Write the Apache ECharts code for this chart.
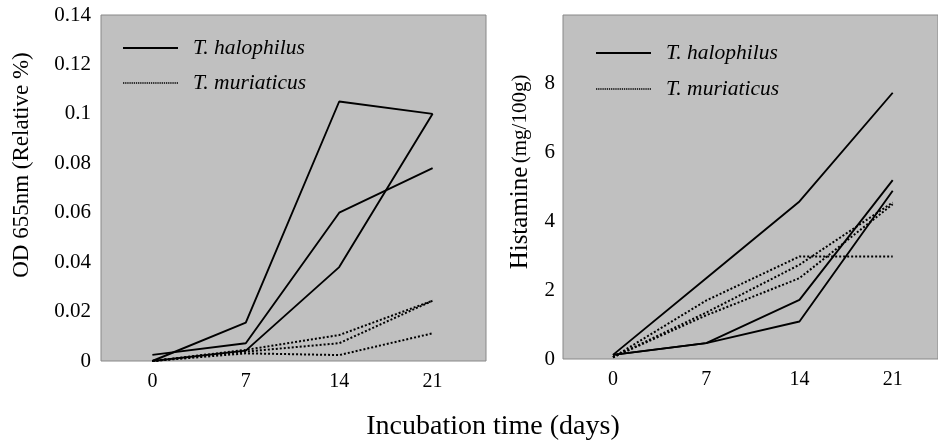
<!DOCTYPE html>
<html>
<head>
<meta charset="utf-8">
<title>OD and histamine</title>
<script src="https://cdn.jsdelivr.net/npm/echarts@6/dist/echarts.min.js"></script>
<style>
html, body { margin: 0; padding: 0; background: #fff; }
#chart { width: 938px; height: 441px; }
</style>
</head>
<body>
<div id="chart"></div>
<script>
// 天数 (x轴)
var days = [0, 7, 14, 21];
var dayLabels = [0, 7, 14, 21];

// 左图 OD 655nm
var odHalo1 = [0, 0.0155, 0.105, 0.1];
var odHalo2 = [0, 0.0042, 0.038, 0.1];
var odHalo3 = [0.0025, 0.0072, 0.060, 0.078];
var odMur1 = [0, 0.0045, 0.0105, 0.0244];
var odMur2 = [0, 0.0038, 0.0072, 0.0244];
var odMur3 = [0, 0.0031, 0.0024, 0.0112];

// 右图 Histamine
var hisHalo1 = [0.12, 2.35, 4.58, 7.74];
var hisHalo2 = [0.12, 0.46, 1.72, 5.2];
var hisHalo3 = [0.12, 0.46, 1.09, 4.89];
var hisMur1 = [0.05, 1.7, 2.98, 2.98];
var hisMur2 = [0.05, 1.35, 2.74, 4.55];
var hisMur3 = [0.05, 1.27, 2.35, 4.5];

var halo = 'T. halophilus';
var mur = 'T. muriaticus';
var font = 'Liberation Serif';

// 图例图标：实线 / 点线
var solidIcon = 'path://M0,0h55v2.2h-55z';
var dottedIcon = 'path://';
for (var k = 0; k < 26; k++) {
    dottedIcon += 'M' + (2 * k) + ',0h1.2v1.5h-1.2z';
}

function pairs(vals) {
    var out = [];
    for (var i = 0; i < days.length; i++) {
        out.push([days[i], vals[i]]);
    }
    return out;
}

function line(name, vals, idx, dotted) {
    return {
        name: name,
        type: 'line',
        xAxisIndex: idx,
        yAxisIndex: idx,
        data: pairs(vals),
        symbol: 'none',
        animation: false,
        itemStyle: { color: '#000' },
        lineStyle: dotted
            ? { color: '#000', width: 2, type: [2, 2] }
            : { color: '#000', width: 1.9, type: 'solid' }
    };
}

function legendAt(left, top, gap) {
    return {
        data: [
            { name: halo, icon: solidIcon, itemStyle: { color: '#000' } },
            { name: mur, icon: dottedIcon, itemStyle: { color: '#000' } }
        ],
        orient: 'vertical',
        left: left,
        top: top,
        padding: 0,
        itemWidth: 55,
        itemHeight: 14,
        itemGap: gap,
        selectedMode: false,
        textStyle: {
            fontFamily: font,
            fontStyle: 'italic',
            fontSize: 21.5,
            color: '#000',
            padding: [0, 0, 0, 10]
        }
    };
}

var xCommon = {
    type: 'value',
    axisLine: { show: false },
    axisTick: { show: false },
    splitLine: { show: false },
    axisLabel: {
        customValues: dayLabels,
        margin: 11,
        color: '#000',
        fontFamily: font,
        fontSize: 20
    }
};

var container = echarts.init(document.getElementById('chart'));
var option = {
    backgroundColor: '#fff',
    animation: false,
    grid: [
        { left: 101, top: 15, width: 385, height: 346, show: true,
          backgroundColor: '#c0c0c0', borderColor: '#888', borderWidth: 1 },
        { left: 563, top: 15, width: 376, height: 344, show: true,
          backgroundColor: '#c0c0c0', borderColor: '#888', borderWidth: 1 }
    ],
    legend: [legendAt(123, 37, 13), legendAt(596, 42, 14)],
    xAxis: [
        Object.assign({ gridIndex: 0, min: -3.85, max: 25 }, xCommon),
        Object.assign({ gridIndex: 1, min: -3.75, max: 24.4 }, xCommon)
    ],
    yAxis: [
        {
            type: 'value', gridIndex: 0, min: 0, max: 0.14, interval: 0.02,
            axisLine: { show: false }, axisTick: { show: false }, splitLine: { show: false },
            axisLabel: { margin: 10, color: '#000', fontFamily: font, fontSize: 21 }
        },
        {
            type: 'value', gridIndex: 1, min: 0, max: 10, interval: 2,
            axisLine: { show: false }, axisTick: { show: false }, splitLine: { show: false },
            axisLabel: {
                margin: 8, color: '#000', fontFamily: font, fontSize: 21,
                formatter: function (v) { return v >= 10 ? '' : String(v); }
            }
        }
    ],
    graphic: [
        {
            type: 'text', x: 22, y: 165, rotation: Math.PI / 2,
            style: {
                text: 'OD 655nm (Relative %)', fill: '#000',
                font: '23px "Liberation Serif"', align: 'center', verticalAlign: 'middle'
            }
        },
        {
            type: 'text', x: 520, y: 172, rotation: Math.PI / 2,
            style: {
                text: '{a|Histamine} {b|(mg/100g)}', fill: '#000',
                align: 'center', verticalAlign: 'middle',
                rich: {
                    a: { fontFamily: font, fontSize: 25, fill: '#000' },
                    b: { fontFamily: font, fontSize: 21, fill: '#000' }
                }
            }
        },
        {
            type: 'text', x: 493, y: 427,
            style: {
                text: 'Incubation time (days)', fill: '#000',
                font: '28px "Liberation Serif"', align: 'center', verticalAlign: 'middle'
            }
        }
    ],
    series: [
        line(halo, odHalo1, 0, false),
        line(halo, odHalo2, 0, false),
        line(halo, odHalo3, 0, false),
        line(mur, odMur1, 0, true),
        line(mur, odMur2, 0, true),
        line(mur, odMur3, 0, true),
        line(halo, hisHalo1, 1, false),
        line(halo, hisHalo2, 1, false),
        line(halo, hisHalo3, 1, false),
        line(mur, hisMur1, 1, true),
        line(mur, hisMur2, 1, true),
        line(mur, hisMur3, 1, true)
    ]
};
container.setOption(option, true);
</script>
</body>
</html>
